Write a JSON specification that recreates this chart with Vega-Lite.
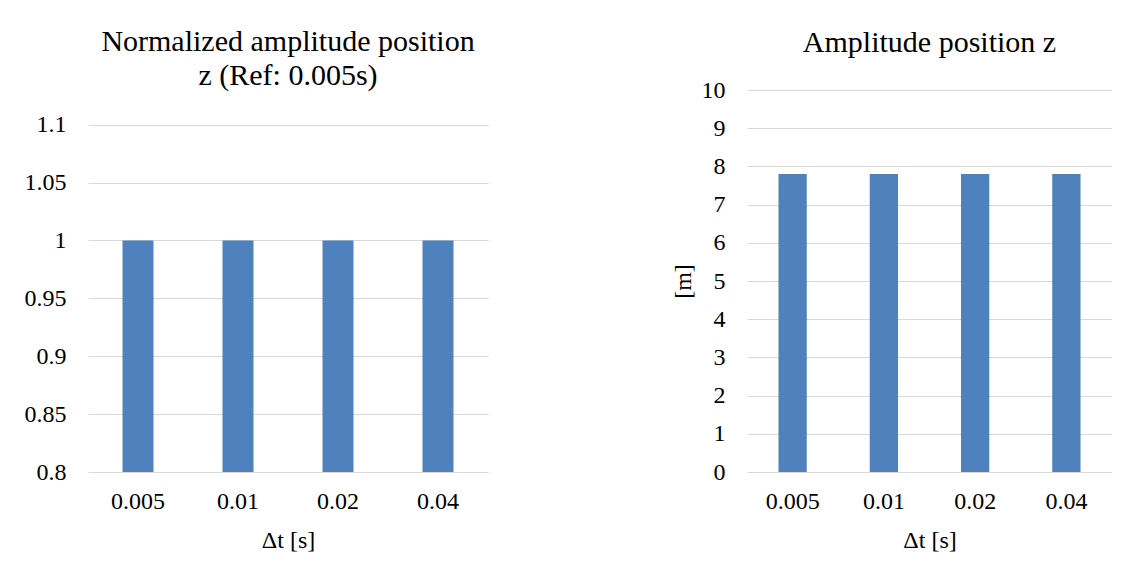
{
  "$schema": "https://vega.github.io/schema/vega-lite/v6.json",
  "background": "white",
  "padding": {"left": 24, "top": 27, "right": 0, "bottom": 0},
  "spacing": 183,
  "datasets": {
    "normalized": [
      {"dt": "0.005", "value": 1},
      {"dt": "0.01", "value": 1},
      {"dt": "0.02", "value": 1},
      {"dt": "0.04", "value": 1}
    ],
    "absolute": [
      {"dt": "0.005", "value": 7.8},
      {"dt": "0.01", "value": 7.8},
      {"dt": "0.02", "value": 7.8},
      {"dt": "0.04", "value": 7.8}
    ]
  },
  "config": {
    "font": "Liberation Serif",
    "view": {"stroke": null},
    "axis": {
      "labelFont": "Liberation Serif",
      "titleFont": "Liberation Serif",
      "labelFontSize": 24,
      "titleFontSize": 24,
      "labelColor": "#000000",
      "titleColor": "#000000",
      "titleFontWeight": "normal",
      "domain": false,
      "ticks": false,
      "gridColor": "#d9d9d9",
      "gridWidth": 1.2
    },
    "axisX": {"labelAngle": 0, "labelPadding": 17, "titlePadding": 15, "grid": false},
    "axisY": {"labelPadding": 22, "titlePadding": 6},
    "title": {
      "font": "Liberation Serif",
      "fontSize": 30,
      "fontWeight": "normal",
      "color": "#000000",
      "anchor": "middle",
      "lineHeight": 34
    },
    "bar": {"color": "#4f81bd"}
  },
  "hconcat": [
    {
      "width": 400,
      "height": 382,
      "title": {"text": ["Normalized amplitude position", "z (Ref: 0.005s)"], "offset": -1},
      "data": {"name": "normalized"},
      "mark": {"type": "bar", "clip": true},
      "encoding": {
        "x": {
          "field": "dt",
          "type": "nominal",
          "sort": null,
          "title": "Δt [s]",
          "scale": {"paddingInner": 0.69, "paddingOuter": 0.345},
          "axis": {"labelFont": "Liberation Serif", "titleFont": "Liberation Serif"}
        },
        "y": {
          "field": "value",
          "type": "quantitative",
          "title": null,
          "scale": {"domain": [0.8, 1.13], "nice": false, "zero": false},
          "axis": {"values": [0.8, 0.85, 0.9, 0.95, 1, 1.05, 1.1], "format": ".2~f", "labelFont": "Liberation Serif"}
        }
      }
    },
    {
      "width": 365,
      "height": 382,
      "title": {"text": "Amplitude position z", "offset": 20},
      "data": {"name": "absolute"},
      "mark": {"type": "bar"},
      "encoding": {
        "x": {
          "field": "dt",
          "type": "nominal",
          "sort": null,
          "title": "Δt [s]",
          "scale": {"paddingInner": 0.69, "paddingOuter": 0.345},
          "axis": {"labelFont": "Liberation Serif", "titleFont": "Liberation Serif"}
        },
        "y": {
          "field": "value",
          "type": "quantitative",
          "title": "[m]",
          "scale": {"domain": [0, 10], "nice": false},
          "axis": {"values": [0, 1, 2, 3, 4, 5, 6, 7, 8, 9, 10], "format": "d", "labelFont": "Liberation Serif", "titleFont": "Liberation Serif"}
        }
      }
    }
  ]
}
